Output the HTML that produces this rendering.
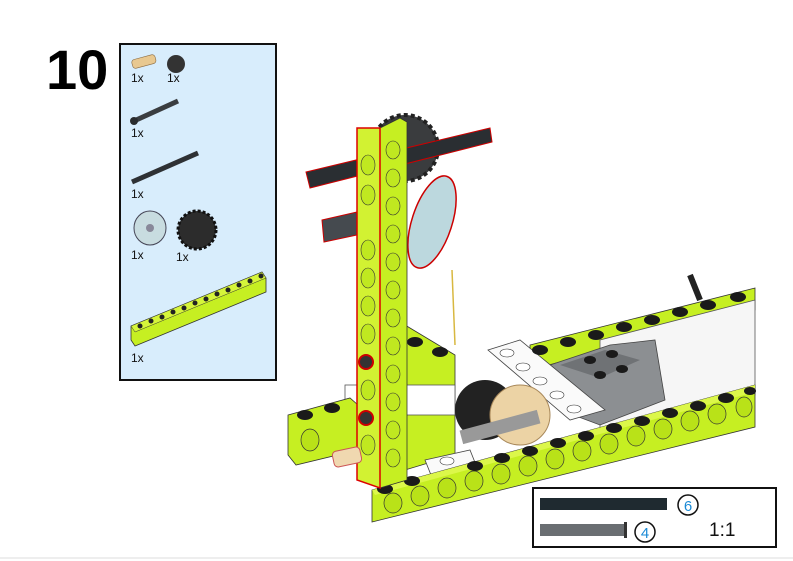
<!DOCTYPE html>
<html><head><meta charset="utf-8"><style>
html,body{margin:0;padding:0;background:#fff}
body{width:793px;height:561px;overflow:hidden;position:relative;font-family:"Liberation Sans",sans-serif}
</style></head><body>
<svg width="793" height="561" viewBox="0 0 793 561" xmlns="http://www.w3.org/2000/svg" style="position:absolute;left:0;top:0">
<text x="46" y="89" font-family="Liberation Sans" font-weight="bold" font-size="56">10</text>
<!-- parts box -->
<rect x="120" y="44" width="156" height="336" fill="#d8edfc" stroke="#111" stroke-width="2"/>
<g font-family="Liberation Sans" font-size="12" fill="#111">
<rect x="132" y="57" width="24" height="9" rx="3" fill="#e8c890" stroke="#8a6a40" stroke-width="0.6" transform="rotate(-15 144 62)"/>
<circle cx="176" cy="64" r="9" fill="#333"/>
<text x="131" y="82">1x</text><text x="167" y="82">1x</text>
<line x1="134" y1="121" x2="178" y2="101" stroke="#3a3d40" stroke-width="5"/>
<circle cx="134" cy="121" r="4" fill="#2a2c2e"/>
<text x="131" y="137">1x</text>
<line x1="132" y1="182" x2="198" y2="153" stroke="#2e3134" stroke-width="5"/>
<text x="131" y="198">1x</text>
<ellipse cx="150" cy="228" rx="16" ry="17" fill="#c8dce0" stroke="#445" stroke-width="1"/>
<circle cx="150" cy="228" r="4" fill="#889"/>
<circle cx="197" cy="230" r="19" fill="#2c2c2c" stroke="#111" stroke-width="3" stroke-dasharray="3 2"/>
<text x="131" y="259">1x</text><text x="176" y="261">1x</text>
<polygon points="131,326 262,272 266,278 266,292 135,346 131,340" fill="#c6ef22" stroke="#333" stroke-width="0.8"/>
<polygon points="131,326 262,272 266,278 135,332" fill="#d6f53a" stroke="#333" stroke-width="0.5"/>
<g fill="#222"><circle cx="140" cy="326" r="2.5"/><circle cx="151" cy="321" r="2.5"/><circle cx="162" cy="317" r="2.5"/><circle cx="173" cy="312" r="2.5"/><circle cx="184" cy="308" r="2.5"/><circle cx="195" cy="303" r="2.5"/><circle cx="206" cy="299" r="2.5"/><circle cx="217" cy="294" r="2.5"/><circle cx="228" cy="290" r="2.5"/><circle cx="239" cy="285" r="2.5"/><circle cx="250" cy="281" r="2.5"/><circle cx="261" cy="276" r="2.5"/></g>
<text x="131" y="362">1x</text>
</g>
<!-- model: back beam -->
<polygon points="530,345 755,288 755,310 530,370" fill="#c6ef22" stroke="#333" stroke-width="0.8"/>
<!-- motor -->
<polygon points="600,340 755,300 755,395 600,430" fill="#f6f6f6" stroke="#555" stroke-width="0.8"/>
<polygon points="550,365 610,345 655,340 665,400 600,425 560,410" fill="#8c8f92" stroke="#444" stroke-width="0.8"/>
<polygon points="560,365 605,350 640,360 600,378" fill="#6f7275"/>
<line x1="690" y1="275" x2="700" y2="300" stroke="#222" stroke-width="6"/>
<!-- white plate -->
<polygon points="488,350 520,340 605,410 570,420" fill="#fafafa" stroke="#444" stroke-width="0.8"/>
<!-- left side box -->
<polygon points="405,325 455,355 455,455 405,470" fill="#c6ef22" stroke="#333" stroke-width="0.8"/>
<rect x="345" y="385" width="110" height="30" fill="#fff" stroke="#555" stroke-width="0.8"/>
<!-- left beam -->
<polygon points="288,415 350,398 358,405 358,450 296,465 288,455" fill="#c6ef22" stroke="#333" stroke-width="0.8"/>
<ellipse cx="310" cy="440" rx="9" ry="11" fill="#b9e218" stroke="#333" stroke-width="0.7"/>
<!-- gears middle -->
<circle cx="485" cy="410" r="30" fill="#222"/>
<circle cx="520" cy="415" r="30" fill="#ecd3a5" stroke="#a8885a" stroke-width="1"/>
<rect x="460" y="420" width="80" height="14" fill="#999" transform="rotate(-15 500 427)"/>
<!-- white plate bottom -->
<polygon points="425,460 470,450 480,475 435,485" fill="#fafafa" stroke="#444" stroke-width="0.8"/>
<!-- front beam -->
<polygon points="372,490 755,385 755,427 372,522" fill="#c6ef22" stroke="#333" stroke-width="0.8"/>
<polygon points="372,490 755,385 755,392 375,495" fill="#dcf74a"/>
<g fill="#b9e218" stroke="#333" stroke-width="0.7">
<ellipse cx="393" cy="503" rx="9" ry="10"/><ellipse cx="420" cy="496" rx="9" ry="10"/><ellipse cx="447" cy="488" rx="9" ry="10"/><ellipse cx="474" cy="481" rx="9" ry="10"/><ellipse cx="501" cy="474" rx="9" ry="10"/><ellipse cx="528" cy="466" rx="9" ry="10"/><ellipse cx="555" cy="459" rx="9" ry="10"/><ellipse cx="582" cy="451" rx="9" ry="10"/><ellipse cx="609" cy="444" rx="9" ry="10"/><ellipse cx="636" cy="436" rx="9" ry="10"/><ellipse cx="663" cy="429" rx="9" ry="10"/><ellipse cx="690" cy="421" rx="9" ry="10"/><ellipse cx="717" cy="414" rx="9" ry="10"/><ellipse cx="744" cy="407" rx="8" ry="10"/>
</g>
<g fill="#1a1a1a">
<ellipse cx="385" cy="489" rx="8" ry="5"/><ellipse cx="412" cy="481" rx="8" ry="5"/><ellipse cx="475" cy="466" rx="8" ry="5"/><ellipse cx="502" cy="458" rx="8" ry="5"/><ellipse cx="530" cy="451" rx="8" ry="5"/><ellipse cx="558" cy="443" rx="8" ry="5"/><ellipse cx="586" cy="436" rx="8" ry="5"/><ellipse cx="614" cy="428" rx="8" ry="5"/><ellipse cx="642" cy="421" rx="8" ry="5"/><ellipse cx="670" cy="413" rx="8" ry="5"/><ellipse cx="698" cy="406" rx="8" ry="5"/><ellipse cx="726" cy="398" rx="8" ry="5"/><ellipse cx="750" cy="391" rx="6" ry="4"/>
<ellipse cx="540" cy="350" rx="8" ry="5"/><ellipse cx="568" cy="342" rx="8" ry="5"/><ellipse cx="596" cy="335" rx="8" ry="5"/><ellipse cx="624" cy="327" rx="8" ry="5"/><ellipse cx="652" cy="320" rx="8" ry="5"/><ellipse cx="680" cy="312" rx="8" ry="5"/><ellipse cx="708" cy="305" rx="8" ry="5"/><ellipse cx="738" cy="297" rx="8" ry="5"/>
<ellipse cx="305" cy="415" rx="8" ry="5"/><ellipse cx="332" cy="408" rx="8" ry="5"/>
<ellipse cx="415" cy="342" rx="8" ry="5"/><ellipse cx="440" cy="352" rx="8" ry="5"/>
<ellipse cx="590" cy="360" rx="6" ry="4"/><ellipse cx="612" cy="354" rx="6" ry="4"/><ellipse cx="600" cy="375" rx="6" ry="4"/><ellipse cx="622" cy="369" rx="6" ry="4"/>
</g>
<g fill="#fff" stroke="#333" stroke-width="0.6">
<ellipse cx="507" cy="353" rx="7" ry="4"/><ellipse cx="523" cy="367" rx="7" ry="4"/><ellipse cx="540" cy="381" rx="7" ry="4"/><ellipse cx="557" cy="395" rx="7" ry="4"/><ellipse cx="574" cy="409" rx="7" ry="4"/><ellipse cx="447" cy="461" rx="7" ry="4"/>
</g>
<!-- pulley & gear top -->
<circle cx="405" cy="148" r="33" fill="#3a3c3e" stroke="#222" stroke-width="4" stroke-dasharray="4 3"/>
<ellipse cx="432" cy="222" rx="20" ry="48" fill="#bcd8de" stroke="#c00" stroke-width="1.5" transform="rotate(18 432 222)"/>
<line x1="452" y1="270" x2="455" y2="345" stroke="#d8b840" stroke-width="1.5"/>
<!-- axles -->
<polygon points="306,172 490,128 492,142 310,188" fill="#2a2e32" stroke="#c00" stroke-width="1"/>
<polygon points="322,220 357,212 357,235 324,242" fill="#454a4f" stroke="#c00" stroke-width="1"/>
<!-- vertical beam -->
<polygon points="380,128 400,118 407,122 407,480 380,488" fill="#c6ef22" stroke="#333" stroke-width="0.8"/>
<polygon points="357,128 380,128 380,488 357,480" fill="#d2f232" stroke="#d00" stroke-width="1.5"/>
<g fill="#c0e820" stroke="#333" stroke-width="0.6">
<ellipse cx="368" cy="165" rx="7" ry="10"/><ellipse cx="368" cy="195" rx="7" ry="10"/><ellipse cx="368" cy="250" rx="7" ry="10"/><ellipse cx="368" cy="278" rx="7" ry="10"/><ellipse cx="368" cy="306" rx="7" ry="10"/><ellipse cx="368" cy="334" rx="7" ry="10"/><ellipse cx="368" cy="390" rx="7" ry="10"/><ellipse cx="368" cy="445" rx="7" ry="10"/>
<ellipse cx="393" cy="150" rx="7" ry="9"/><ellipse cx="393" cy="178" rx="7" ry="9"/><ellipse cx="393" cy="206" rx="7" ry="9"/><ellipse cx="393" cy="234" rx="7" ry="9"/><ellipse cx="393" cy="262" rx="7" ry="9"/><ellipse cx="393" cy="290" rx="7" ry="9"/><ellipse cx="393" cy="318" rx="7" ry="9"/><ellipse cx="393" cy="346" rx="7" ry="9"/><ellipse cx="393" cy="374" rx="7" ry="9"/><ellipse cx="393" cy="402" rx="7" ry="9"/><ellipse cx="393" cy="430" rx="7" ry="9"/><ellipse cx="393" cy="458" rx="7" ry="9"/>
</g>
<circle cx="366" cy="362" r="7" fill="#333" stroke="#c00" stroke-width="2"/>
<circle cx="366" cy="418" r="7" fill="#333" stroke="#c00" stroke-width="2"/>
<rect x="333" y="449" width="28" height="16" rx="4" fill="#f0d8b0" stroke="#c55" stroke-width="1" transform="rotate(-12 347 457)"/>
<!-- scale box -->
<rect x="533" y="488" width="243" height="59" fill="#fff" stroke="#111" stroke-width="2"/>
<rect x="540" y="498" width="127" height="12" fill="#1f2a30"/>
<rect x="540" y="524" width="85" height="12" fill="#6a6e72"/>
<rect x="624" y="522" width="3" height="16" fill="#333"/>
<circle cx="688" cy="505" r="10" fill="#fff" stroke="#111" stroke-width="1.5"/>
<text x="688" y="511" text-anchor="middle" font-size="15" fill="#1a8ad6" font-family="Liberation Sans">6</text>
<circle cx="645" cy="532" r="10" fill="#fff" stroke="#111" stroke-width="1.5"/>
<text x="645" y="538" text-anchor="middle" font-size="15" fill="#1a8ad6" font-family="Liberation Sans">4</text>
<text x="709" y="536" font-size="19" fill="#111" font-family="Liberation Sans">1:1</text>
<line x1="0" y1="558" x2="793" y2="558" stroke="#ddd" stroke-width="1"/>
</svg>
</body></html>
